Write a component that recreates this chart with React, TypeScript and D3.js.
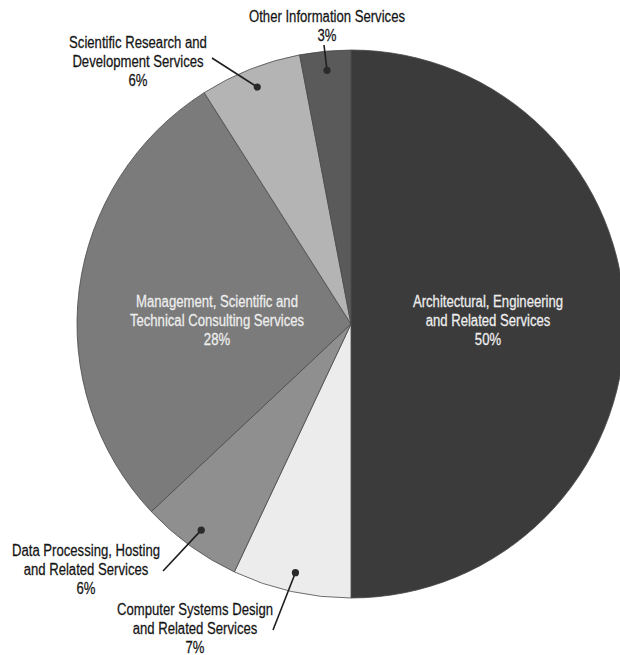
import React, { useEffect, useRef } from "react";
import * as d3 from "d3";

// Shares of employment by industry segment, clockwise from 12 o'clock
const categories = [
  "Architectural, Engineering\nand Related Services",
  "Computer Systems Design\nand Related Services",
  "Data Processing, Hosting\nand Related Services",
  "Management, Scientific and\nTechnical Consulting Services",
  "Scientific Research and\nDevelopment Services",
  "Other Information Services",
];
const shares = [50, 7, 6, 28, 6, 3];
const fills = ["#3b3b3b", "#ececec", "#8f8f8f", "#7b7b7b", "#b4b4b4", "#5a5a5a"];

// Label placement: inside labels sit in the slice, outside labels get a leader line
type LabelSpot = { x: number; y: number; inside: boolean; lx?: number; ly?: number };
const labelSpots: LabelSpot[] = [
  { x: 488, y: 307, inside: true },
  { x: 195, y: 615, inside: false, lx: 273, ly: 630 },
  { x: 86, y: 556, inside: false, lx: 163, ly: 571 },
  { x: 217, y: 307, inside: true },
  { x: 138, y: 48, inside: false, lx: 212, ly: 58 },
  { x: 327, y: 22, inside: false, lx: 324, ly: 45 },
];

const W = 620;
const H = 655;
const CX = 351;
const CY = 324;
const R = 274;
const LINE = 19;
const FONT = "'Liberation Sans', Arial, sans-serif";
const NARROW = 0.82; // horizontal squeeze for a narrow grotesque look

export default function App() {
  const ref = useRef<SVGSVGElement>(null);

  useEffect(() => {
    const svg = d3.select(ref.current);
    svg.selectAll("*").remove();

    const data = categories.map((name, i) => ({ name, value: shares[i], fill: fills[i], spot: labelSpots[i] }));
    const pie = d3.pie<typeof data[number]>().value((d) => d.value).sort(null);
    const arcs = pie(data);

    const arc = d3.arc<d3.PieArcDatum<typeof data[number]>>().innerRadius(0).outerRadius(R);
    const dotArc = d3.arc<d3.PieArcDatum<typeof data[number]>>().innerRadius(R * 0.93).outerRadius(R * 0.93);

    const g = svg.append("g").attr("transform", `translate(${CX},${CY})`);
    g.selectAll("path.slice")
      .data(arcs)
      .join("path")
      .attr("class", "slice")
      .attr("d", arc)
      .attr("fill", (d) => d.data.fill)
      .attr("stroke", "#4a4a4a")
      .attr("stroke-width", 0.8);

    // leader lines and anchor dots for the outside labels
    arcs.forEach((a) => {
      const s = a.data.spot;
      if (s.inside) return;
      const [dx, dy] = dotArc.centroid(a);
      svg
        .append("line")
        .attr("x1", s.lx!)
        .attr("y1", s.ly!)
        .attr("x2", CX + dx)
        .attr("y2", CY + dy)
        .attr("stroke", "#1e1e1e")
        .attr("stroke-width", 1.6);
      svg
        .append("circle")
        .attr("cx", CX + dx)
        .attr("cy", CY + dy)
        .attr("r", 3.6)
        .attr("fill", "#2a2a2a");
    });

    // text blocks: name lines then the percentage
    arcs.forEach((a) => {
      const s = a.data.spot;
      const lines = [...a.data.name.split("\n"), `${a.data.value}%`];
      const t = svg
        .append("text")
        .attr("transform", `translate(${s.x},${s.y}) scale(${NARROW},1)`)
        .attr("text-anchor", "middle")
        .attr("font-family", FONT)
        .attr("font-size", 16)
        .attr("fill", s.inside ? "#eeeeee" : "#151515")
        .attr("stroke", s.inside ? "#eeeeee" : "#151515")
        .attr("stroke-width", 0.25);
      lines.forEach((ln, i) => {
        t.append("tspan").attr("x", 0).attr("y", i * LINE).text(ln);
      });
    });
  }, []);

  return (
    <div style={{ position: "absolute", left: 0, top: 0, width: W, height: H, background: "#fff", overflow: "hidden" }}>
      <svg ref={ref} width={W} height={H} viewBox={`0 0 ${W} ${H}`} />
    </div>
  );
}
